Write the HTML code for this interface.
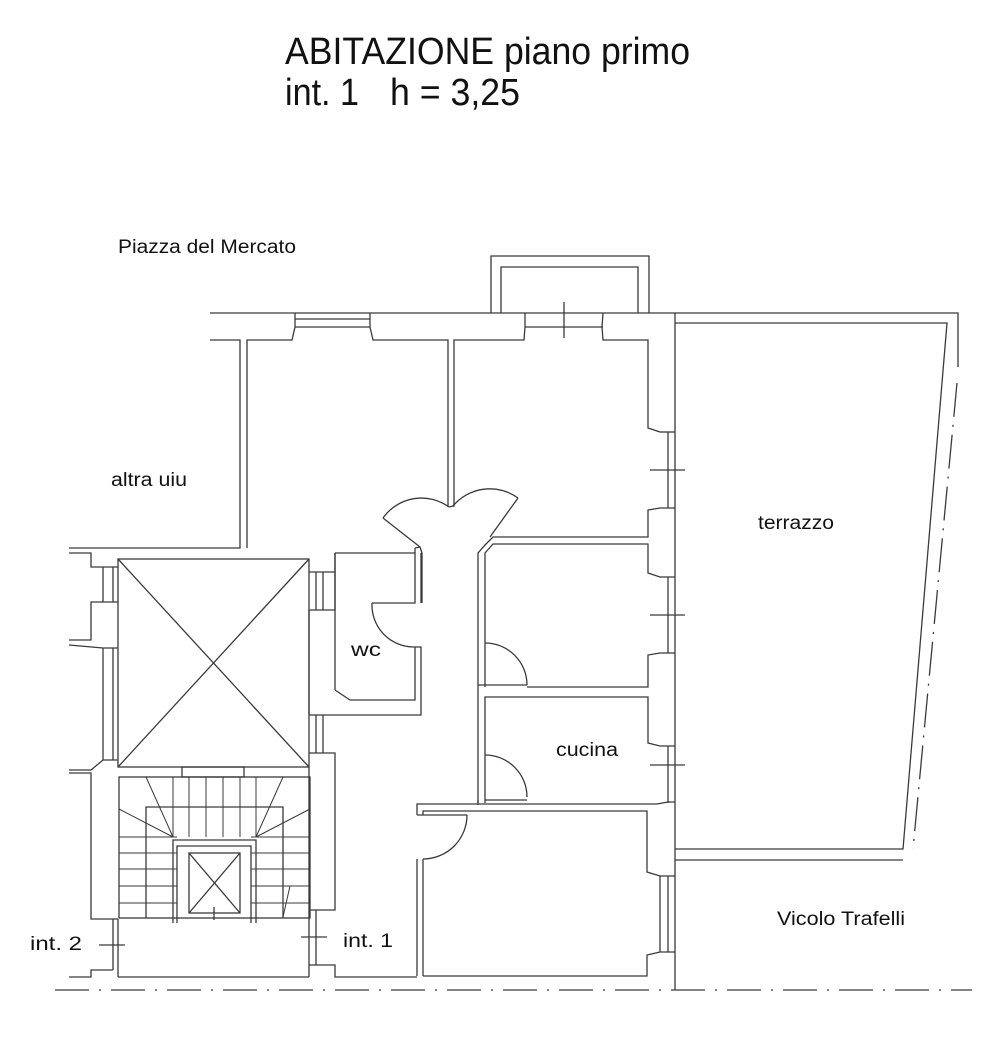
<!DOCTYPE html>
<html><head><meta charset="utf-8"><style>
html,body{margin:0;padding:0;background:#fff;width:984px;height:1043px;overflow:hidden}
svg{display:block}
text{font-family:"Liberation Sans",sans-serif;fill:#111}
</style></head><body>
<svg width="984" height="1043" viewBox="0 0 984 1043" xmlns="http://www.w3.org/2000/svg">
<text x="285" y="64" font-size="38" textLength="405" lengthAdjust="spacingAndGlyphs">ABITAZIONE piano primo</text>
<text x="285" y="105" font-size="38" textLength="74" lengthAdjust="spacingAndGlyphs">int. 1</text>
<text x="390" y="105" font-size="38" textLength="130" lengthAdjust="spacingAndGlyphs">h = 3,25</text>
<text x="118" y="253" font-size="19" textLength="178" lengthAdjust="spacingAndGlyphs">Piazza del Mercato</text>
<text x="111" y="486" font-size="19" textLength="76" lengthAdjust="spacingAndGlyphs">altra uiu</text>
<text x="758" y="529" font-size="19" textLength="76" lengthAdjust="spacingAndGlyphs">terrazzo</text>
<text x="351" y="656" font-size="19" textLength="30" lengthAdjust="spacingAndGlyphs">wc</text>
<text x="556" y="756" font-size="19" textLength="62" lengthAdjust="spacingAndGlyphs">cucina</text>
<text x="777" y="925" font-size="19" textLength="128" lengthAdjust="spacingAndGlyphs">Vicolo Trafelli</text>
<text x="30" y="950" font-size="19" textLength="52" lengthAdjust="spacingAndGlyphs">int. 2</text>
<text x="343" y="947" font-size="19" textLength="50" lengthAdjust="spacingAndGlyphs">int. 1</text>
<g fill="none" stroke="#3a3a3a" stroke-width="1.3">
<polyline points="210,313 958,313 958,367"/>
<polyline points="210,340 240,340 240,548 69,548"/>
<polyline points="247,548 247,340 292,340 295,327 295,313"/>
<line x1="295" y1="319" x2="370" y2="319"/><line x1="295" y1="327" x2="370" y2="327"/>
<polyline points="370,313 370,327 373,340 448,340 448,507"/>
<polyline points="454,507 454,340 524,340 525,327 525,313"/>
<line x1="525" y1="327" x2="603" y2="327"/><line x1="564" y1="302" x2="564" y2="338"/>
<polyline points="603,313 602,327 603,340 648,340 648,428 660,432"/>
<polyline points="491,313 491,256 649,256 649,313"/>
<polyline points="501,313 501,267 638,267 638,313"/>
<line x1="675" y1="313" x2="675" y2="990"/>
<line x1="660" y1="432" x2="675" y2="432"/>
<line x1="668" y1="432" x2="668" y2="508"/>
<line x1="650" y1="470" x2="685" y2="470"/>
<polyline points="675,508 660,508 648,510 648,537 493,537 485,545 478,553 478,803"/>
<polyline points="485,803 485,697 648,697 648,743 660,746 675,746"/>
<polyline points="485,687 485,553 493,544 648,544 648,573 660,577 675,577"/>
<line x1="668" y1="577" x2="668" y2="653"/>
<line x1="650" y1="615" x2="685" y2="615"/>
<polyline points="675,653 660,653 648,655 648,687 527,687"/>
<line x1="478" y1="685" x2="527" y2="685"/>
<line x1="668" y1="746" x2="668" y2="803"/>
<line x1="650" y1="765" x2="685" y2="765"/>
<path d="M485,643 A42,42 0 0 1 527,685"/>
<path d="M485,755 A42,42 0 0 1 527,797"/>
<polyline points="485,800 527,800"/>
<polyline points="478,800 478,805"/>
<polyline points="417,976 417,859"/>
<polyline points="423,976 423,859"/>
<polyline points="417,815 417,804 657,804 668,802 675,802"/>
<polyline points="423,815 423,811 647,811 647,872 660,876 675,876"/>
<polyline points="417,815 467,815"/>
<path d="M467,815 A44,44 0 0 1 423,859"/>
<line x1="660" y1="876" x2="660" y2="952"/><line x1="668" y1="876" x2="668" y2="952"/>
<polyline points="675,952 660,952 647,955 647,976 423,976"/>
<polyline points="420,547 383,518"/>
<path d="M383,518 A47,47 0 0 1 449,507"/>
<polyline points="449,507 453,506"/>
<polyline points="490,537 518,498"/>
<path d="M518,498 A48,48 0 0 0 453,506"/>
<polyline points="415,548 420,547 422,553 422,603"/>
<polyline points="415,548 415,553"/>
<polyline points="335,553 415,553 415,603 372,603"/>
<path d="M372,603 A42,42 0 0 0 413,647"/>
<polyline points="413,647 421,647 421,715 309,715"/>
<polyline points="415,647 415,700 350,700 335,690"/>
<polyline points="335,690 335,553"/>
<line x1="421" y1="553" x2="421" y2="603"/>
<rect x="118" y="559" width="191" height="208"/>
<line x1="118" y1="559" x2="309" y2="767"/><line x1="309" y1="559" x2="118" y2="767"/>
<line x1="309" y1="572" x2="335" y2="572"/>
<line x1="316" y1="572" x2="316" y2="610"/><line x1="323" y1="572" x2="323" y2="610"/>
<polyline points="309,610 335,610 335,553"/>
<line x1="309" y1="610" x2="309" y2="715"/>
<line x1="316" y1="715" x2="316" y2="753"/><line x1="323" y1="715" x2="323" y2="753"/>
<polyline points="309,753 335,753 335,910 309,910"/>
<line x1="309" y1="767" x2="309" y2="977"/>
<line x1="316" y1="910" x2="316" y2="965"/>
<line x1="301" y1="937" x2="327" y2="937"/>
<polyline points="309,965 335,965 335,977 417,977"/>
<polyline points="69,553 91,553 91,567 118,567"/>
<line x1="103" y1="567" x2="103" y2="602"/><line x1="113" y1="567" x2="113" y2="602"/>
<polyline points="118,602 91,602 91,640 69,640"/>
<polyline points="69,645 103,648 118,648"/>
<line x1="103" y1="648" x2="103" y2="760"/><line x1="113" y1="648" x2="113" y2="760"/>
<polyline points="118,760 103,760 91,770 69,770"/>
<polyline points="69,773 91,773 91,919 118,919"/>
<line x1="113" y1="919" x2="113" y2="970"/><line x1="118" y1="919" x2="118" y2="977"/>
<line x1="99" y1="945" x2="125" y2="945"/>
<polyline points="113,970 91,970 91,977 69,977"/>
<line x1="118" y1="977" x2="309" y2="977"/>
<rect x="182" y="767" width="62" height="10"/>
<rect x="119" y="777" width="191" height="141"/>
<polyline points="146,918 146,807 283,807 283,918"/>
<g stroke-width="1">
<line x1="173" y1="777" x2="173" y2="837"/><line x1="189" y1="777" x2="189" y2="837"/>
<line x1="206" y1="777" x2="206" y2="837"/><line x1="223" y1="777" x2="223" y2="837"/>
<line x1="240" y1="777" x2="240" y2="837"/><line x1="256" y1="777" x2="256" y2="837"/>
<line x1="146" y1="777" x2="173" y2="837"/><line x1="283" y1="777" x2="256" y2="837"/>
<line x1="119" y1="809" x2="173" y2="837"/><line x1="310" y1="809" x2="256" y2="837"/>
<line x1="119" y1="837" x2="177" y2="837"/><line x1="251" y1="837" x2="310" y2="837"/>
<line x1="119" y1="853" x2="177" y2="853"/><line x1="251" y1="853" x2="310" y2="853"/>
<line x1="119" y1="869" x2="177" y2="869"/><line x1="251" y1="869" x2="310" y2="869"/>
<line x1="119" y1="886" x2="177" y2="886"/><line x1="251" y1="886" x2="310" y2="886"/>
<line x1="119" y1="903" x2="177" y2="903"/><line x1="251" y1="903" x2="310" y2="903"/>
<line x1="290" y1="886" x2="283" y2="917"/>
</g>
<polyline points="173,923 173,840 256,840 256,923"/>
<polyline points="177,923 177,846 251,846 251,923"/>
<rect x="189" y="853" width="51" height="60"/>
<line x1="189" y1="853" x2="240" y2="913"/><line x1="240" y1="853" x2="189" y2="913"/>
<line x1="214" y1="907" x2="214" y2="920"/>
<polyline points="675,323 947,323 903,849 675,849"/>
<line x1="675" y1="860" x2="903" y2="860"/>
<line x1="957" y1="383" x2="913" y2="849" stroke-dasharray="34,8,2,8"/>
<line x1="55" y1="990" x2="972" y2="990" stroke-dasharray="34,10,2,10"/>
</g>
</svg>
</body></html>
